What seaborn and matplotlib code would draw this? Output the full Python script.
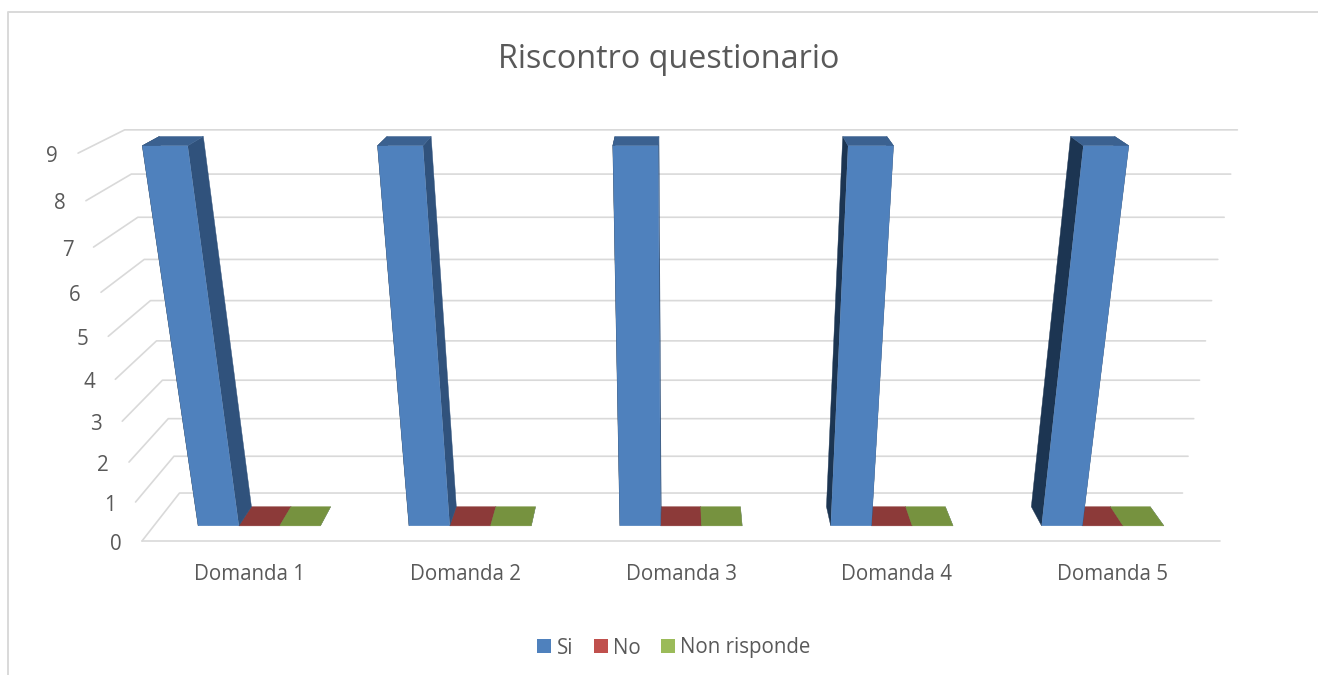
import matplotlib
matplotlib.use("Agg")
import matplotlib.pyplot as plt
import pandas as pd
import seaborn as sns
from matplotlib.lines import Line2D
from matplotlib.patches import Polygon
from matplotlib.transforms import IdentityTransform, Transform

# dati del grafico
domande = ["Domanda 1", "Domanda 2", "Domanda 3", "Domanda 4", "Domanda 5"]
si = [9, 9, 9, 9, 9]
no = [0, 0, 0, 0, 0]
non_risponde = [0, 0, 0, 0, 0]
serie = ["Si", "No", "Non risponde"]
valori_asse = [0, 1, 2, 3, 4, 5, 6, 7, 8, 9]

# colori: fronte, sopra, fianco destro, fianco sinistro
fronte = ["#4F81BD", "#C0504D", "#9BBB59"]
sopra = ["#3B6190", "#8C3A39", "#76923F"]
fianco_dx = "#30527C"
fianco_sx = "#1C3552"
griglia = "#D9D9D9"
testo = "#595959"

W, H = 1318, 675
Z_FRONT, Z_BACK = 0.3, 0.7
FONT = 14.8


# prospettiva del grafico 3d: (categoria, valore, profondita) -> pixel
def project(x, y, z):
    w = 1 - 0.01178 * y + 0.0748 * z
    sx = 681 + (x - 2) * 215.6 / w
    sy = (541 - 44.9 * y - 11.1 * z) / w
    return sx, H - sy


class Prospettiva(Transform):
    input_dims = 2
    output_dims = 2

    def __init__(self, z):
        super().__init__()
        self.z = z

    def transform_non_affine(self, values):
        out = values.copy()
        out[:, 0], out[:, 1] = project(values[:, 0], values[:, 1], self.z)
        return out


sns.set_theme(style="white")
plt.rcParams["font.family"] = ["Open Sans", "DejaVu Sans"]

df = pd.DataFrame({
    "domanda": domande * 3,
    "serie": [serie[0]] * 5 + [serie[1]] * 5 + [serie[2]] * 5,
    "valore": si + no + non_risponde,
})

fig = plt.figure(figsize=(W / 100, H / 100), dpi=100)
ax = fig.add_axes([0, 0, 1, 1])
sns.barplot(data=df, x="domanda", y="valore", hue="serie", order=domande, hue_order=serie,
            palette=fronte, saturation=1, width=0.58, linewidth=0, ax=ax)
ax.set_axis_off()

pix = IdentityTransform()


def faccia(punti, colore, zorder):
    ax.add_patch(Polygon([project(*p) for p in punti], closed=True, facecolor=colore, edgecolor=colore,
                         linewidth=0.3, transform=pix, zorder=zorder, clip_on=False))


# griglia: fondo, parete sinistra, bordo anteriore
for v in valori_asse:
    xa, ya = project(-0.5, v, 1)
    xb, yb = project(4.5, v, 1)
    xc, yc = project(-0.5, v, 0)
    ax.add_line(Line2D([xc, xa, xb], [yc, ya, yb], color=griglia, linewidth=1.2, transform=pix,
                       zorder=1, clip_on=False))
    ax.text(xc - 26, yc - 3, str(v), color=testo, fontsize=FONT, ha="center", va="center", transform=pix)
x0, y0 = project(-0.5, 0, 0)
x1, y1 = project(4.5, 0, 0)
ax.add_line(Line2D([x0, x1], [y0, y1], color=griglia, linewidth=1.2, transform=pix, zorder=1, clip_on=False))

# le barre di seaborn diventano la faccia frontale, poi si aggiungono fianchi e sopra
for s, container in enumerate(ax.containers):
    for bar in container:
        a = bar.get_x()
        b = a + bar.get_width()
        v = bar.get_height()
        z = 3 if v > 0 else 2
        faccia([(a, 0, Z_FRONT), (a, v, Z_FRONT), (a, v, Z_BACK), (a, 0, Z_BACK)], fianco_sx, z)
        faccia([(b, 0, Z_FRONT), (b, v, Z_FRONT), (b, v, Z_BACK), (b, 0, Z_BACK)], fianco_dx, z + 0.1)
        faccia([(a, v, Z_FRONT), (b, v, Z_FRONT), (b, v, Z_BACK), (a, v, Z_BACK)], sopra[s], z + 0.2)
        bar.set_transform(Prospettiva(Z_FRONT))
        bar.set_clip_on(False)
        bar.set_zorder(z + 0.3)

# etichette categorie
for i, d in enumerate(domande):
    xt, yt = project(i, 0, 0)
    ax.text(xt, yt - 34, d, color=testo, fontsize=FONT, ha="center", va="center", transform=pix)

fig.text(669 / W, 1 - 60 / H, "Riscontro questionario", color=testo, fontsize=23.3, ha="center", va="center")

sns.move_legend(ax, "center", bbox_to_anchor=(674 / W, 1 - 648 / H), bbox_transform=fig.transFigure,
                ncol=3, frameon=False, title=None, fontsize=FONT, labelcolor=testo,
                handlelength=0.68, handleheight=0.68, handletextpad=0.25, columnspacing=1.0)

# cornice del grafico
fig.add_artist(Line2D([8 / W, 8 / W, 1], [0, 1 - 12 / H, 1 - 12 / H], color=griglia, linewidth=1.4))

fig.savefig("out.png", dpi=100, facecolor="white")
